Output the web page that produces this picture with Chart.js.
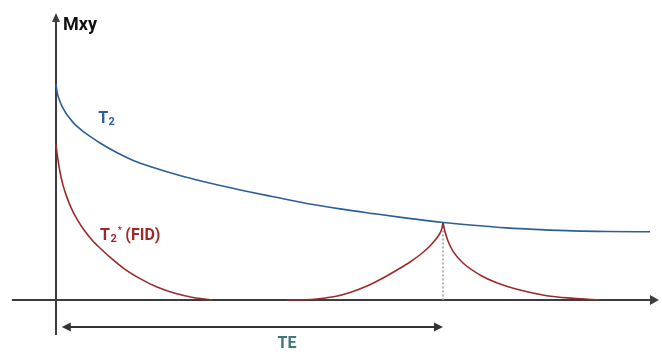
<!DOCTYPE html>
<html>
<head>
<meta charset="utf-8">
<script src="https://cdn.jsdelivr.net/npm/chart.js@4.4.1/dist/chart.umd.min.js"></script>
<style>
  html, body { margin: 0; padding: 0; background: #ffffff; }
  #wrap { width: 662px; height: 352px; position: relative; }
</style>
</head>
<body>
<div id="wrap"><canvas id="c"></canvas></div>
<script>
// Time axis in arbitrary units (echo time TE = 100), transverse magnetisation normalised to M0 = 1
const TE = 100;

// T2 decay envelope
const t2Time = [0, 0.13, 0.39, 0.78, 1.29, 1.94, 2.71, 3.62, 4.52, 5.68, 7.05, 9.04, 11.37,
                15.68, 19.97, 24.29, 32.89, 41.52, 50.13, 56.15, 64.78, 73.39, 81.99, 90.62,
                100, 107.83, 116.46, 125.06, 133.67, 142.3, 153.49];
const t2Mxy  = [1.000, 0.981, 0.954, 0.931, 0.907, 0.884, 0.861, 0.840, 0.820, 0.800, 0.780, 0.755, 0.727,
                0.683, 0.646, 0.618, 0.572, 0.534, 0.500, 0.478, 0.447, 0.422, 0.400, 0.379,
                0.359, 0.346, 0.334, 0.326, 0.320, 0.317, 0.316];

// Free induction decay (T2*)
const fidTime = [0, 0.26, 0.65, 1.16, 1.81, 2.71, 3.88, 5.43, 7.24, 9.30, 11.63, 14.47, 17.83,
                 21.71, 26.10, 30.75, 35.4, 40.57];
const fidMxy  = [0.722, 0.681, 0.632, 0.581, 0.532, 0.481, 0.428, 0.374, 0.324, 0.278, 0.236, 0.190, 0.142,
                 0.099, 0.060, 0.031, 0.012, 0];

// Spin echo: refocusing up to TE, then dephasing again
const riseTime = [59.69, 64.34, 67.44, 72.09, 75.97, 80.36, 84.50, 88.11, 91.47, 94.32, 96.64, 98.19, 99.22, 99.74, 100];
const riseMxy  = [0, 0.001, 0.005, 0.016, 0.035, 0.065, 0.102, 0.139, 0.176, 0.213, 0.250, 0.282, 0.310, 0.333, 0.359];
const fallTime = [100, 100.52, 101.37, 102.66, 105.24, 109.56, 113.87, 119.9, 126.8, 133.67, 140.57];
const fallMxy  = [0.359, 0.316, 0.270, 0.224, 0.170, 0.116, 0.080, 0.046, 0.020, 0.008, 0];

const toPoints = (xs, ys) => xs.map((x, i) => ({ x: x, y: ys[i] }));

const BLUE = '#2c5f96';
const RED = '#9c2a2a';
const AXIS = '#3c3c3c';
const TEAL = '#3f7676';

function lineSet(data, color) {
  return {
    data: data,
    borderColor: color,
    borderWidth: 1.6,
    pointRadius: 0,
    fill: false,
    cubicInterpolationMode: 'monotone'
  };
}

function arrowHead(ctx, x, y, angle, len, half) {
  ctx.save();
  ctx.translate(x, y);
  ctx.rotate(angle);
  ctx.beginPath();
  ctx.moveTo(0, 0);
  ctx.lineTo(-len, -half);
  ctx.lineTo(-len, half);
  ctx.closePath();
  ctx.fill();
  ctx.restore();
}

// Axes with arrowheads, drawn beneath the curves
const axesPlugin = {
  id: 'axesArrows',
  beforeDatasetsDraw(chart) {
    const { ctx, scales: { x, y } } = chart;
    const x0 = x.getPixelForValue(0);
    const y0 = y.getPixelForValue(0);
    ctx.save();
    ctx.strokeStyle = AXIS;
    ctx.fillStyle = AXIS;
    ctx.lineWidth = 2;
    // horizontal axis
    const xl = x.getPixelForValue(-11.4);
    const xr = x.getPixelForValue(155.8);
    ctx.beginPath();
    ctx.moveTo(xl, y0);
    ctx.lineTo(xr - 6, y0);
    ctx.stroke();
    arrowHead(ctx, xr, y0, 0, 9, 5);
    // vertical axis
    const yb = y.getPixelForValue(-0.162);
    const yt = y.getPixelForValue(1.329);
    ctx.beginPath();
    ctx.moveTo(x0, yb);
    ctx.lineTo(x0, yt + 6);
    ctx.stroke();
    arrowHead(ctx, x0, yt, -Math.PI / 2, 9, 4);
    // TE marker (dotted) from the echo peak down to the axis
    ctx.strokeStyle = '#9a9a9a';
    ctx.lineWidth = 1.5;
    ctx.setLineDash([2, 2]);
    ctx.beginPath();
    ctx.moveTo(x.getPixelForValue(TE), y.getPixelForValue(riseMxy[riseMxy.length - 1]));
    ctx.lineTo(x.getPixelForValue(TE), y0);
    ctx.stroke();
    ctx.setLineDash([]);
    ctx.restore();
  },
  afterDatasetsDraw(chart) {
    const { ctx, scales: { x, y } } = chart;
    ctx.save();
    // TE double arrow
    const ya = y.getPixelForValue(-0.125);
    const xa = x.getPixelForValue(1.5);
    const xb = x.getPixelForValue(TE);
    ctx.strokeStyle = '#333333';
    ctx.fillStyle = '#333333';
    ctx.lineWidth = 2;
    ctx.beginPath();
    ctx.moveTo(xa + 6, ya);
    ctx.lineTo(xb - 6, ya);
    ctx.stroke();
    arrowHead(ctx, xa, ya, Math.PI, 9, 4.5);
    arrowHead(ctx, xb, ya, 0, 9, 4.5);

    ctx.textBaseline = 'alphabetic';
    // y-axis title
    ctx.fillStyle = '#111111';
    ctx.font = 'bold 18px Roboto';
    ctx.textAlign = 'left';
    ctx.fillText('Mxy', x.getPixelForValue(1.8), y.getPixelForValue(1.25));

    // T2 label
    let px = x.getPixelForValue(10.9);
    let py = y.getPixelForValue(0.819);
    ctx.fillStyle = BLUE;
    ctx.font = 'bold 16px Roboto';
    ctx.fillText('T', px, py);
    let w = ctx.measureText('T').width;
    ctx.font = 'bold 11px Roboto';
    ctx.fillText('2', px + w + 0.5, py + 2);

    // T2* (FID) label
    px = x.getPixelForValue(11.4);
    py = y.getPixelForValue(0.278);
    ctx.fillStyle = RED;
    ctx.font = 'bold 16px Roboto';
    ctx.fillText('T', px, py);
    w = ctx.measureText('T').width;
    ctx.font = 'bold 11px Roboto';
    ctx.fillText('2', px + w + 0.5, py + 2);
    const w2 = ctx.measureText('2').width;
    ctx.font = 'bold 9px Roboto';
    ctx.fillText('*', px + w + w2 + 1.5, py - 7);
    ctx.font = 'bold 16px Roboto';
    ctx.fillText('(FID)', px + w + w2 + 9, py);

    // TE label
    ctx.fillStyle = TEAL;
    ctx.font = 'bold 16px Roboto';
    ctx.textAlign = 'center';
    ctx.fillText('TE', x.getPixelForValue(59.7), y.getPixelForValue(-0.222));
    ctx.restore();
  }
};

new Chart(document.getElementById('c'), {
  type: 'line',
  data: {
    datasets: [
      lineSet(toPoints(t2Time, t2Mxy), BLUE),
      lineSet(toPoints(fidTime, fidMxy), RED),
      lineSet(toPoints(riseTime, riseMxy), RED),
      lineSet(toPoints(fallTime, fallMxy), RED)
    ]
  },
  options: {
    responsive: true,
    maintainAspectRatio: false,
    animation: false,
    layout: { padding: 0 },
    plugins: { legend: { display: false }, tooltip: { enabled: false } },
    scales: {
      x: { type: 'linear', display: false, min: -14.47, max: 156.59 },
      y: { type: 'linear', display: false, min: -0.2407, max: 1.3889 }
    }
  },
  plugins: [axesPlugin]
});
</script>
</body>
</html>
